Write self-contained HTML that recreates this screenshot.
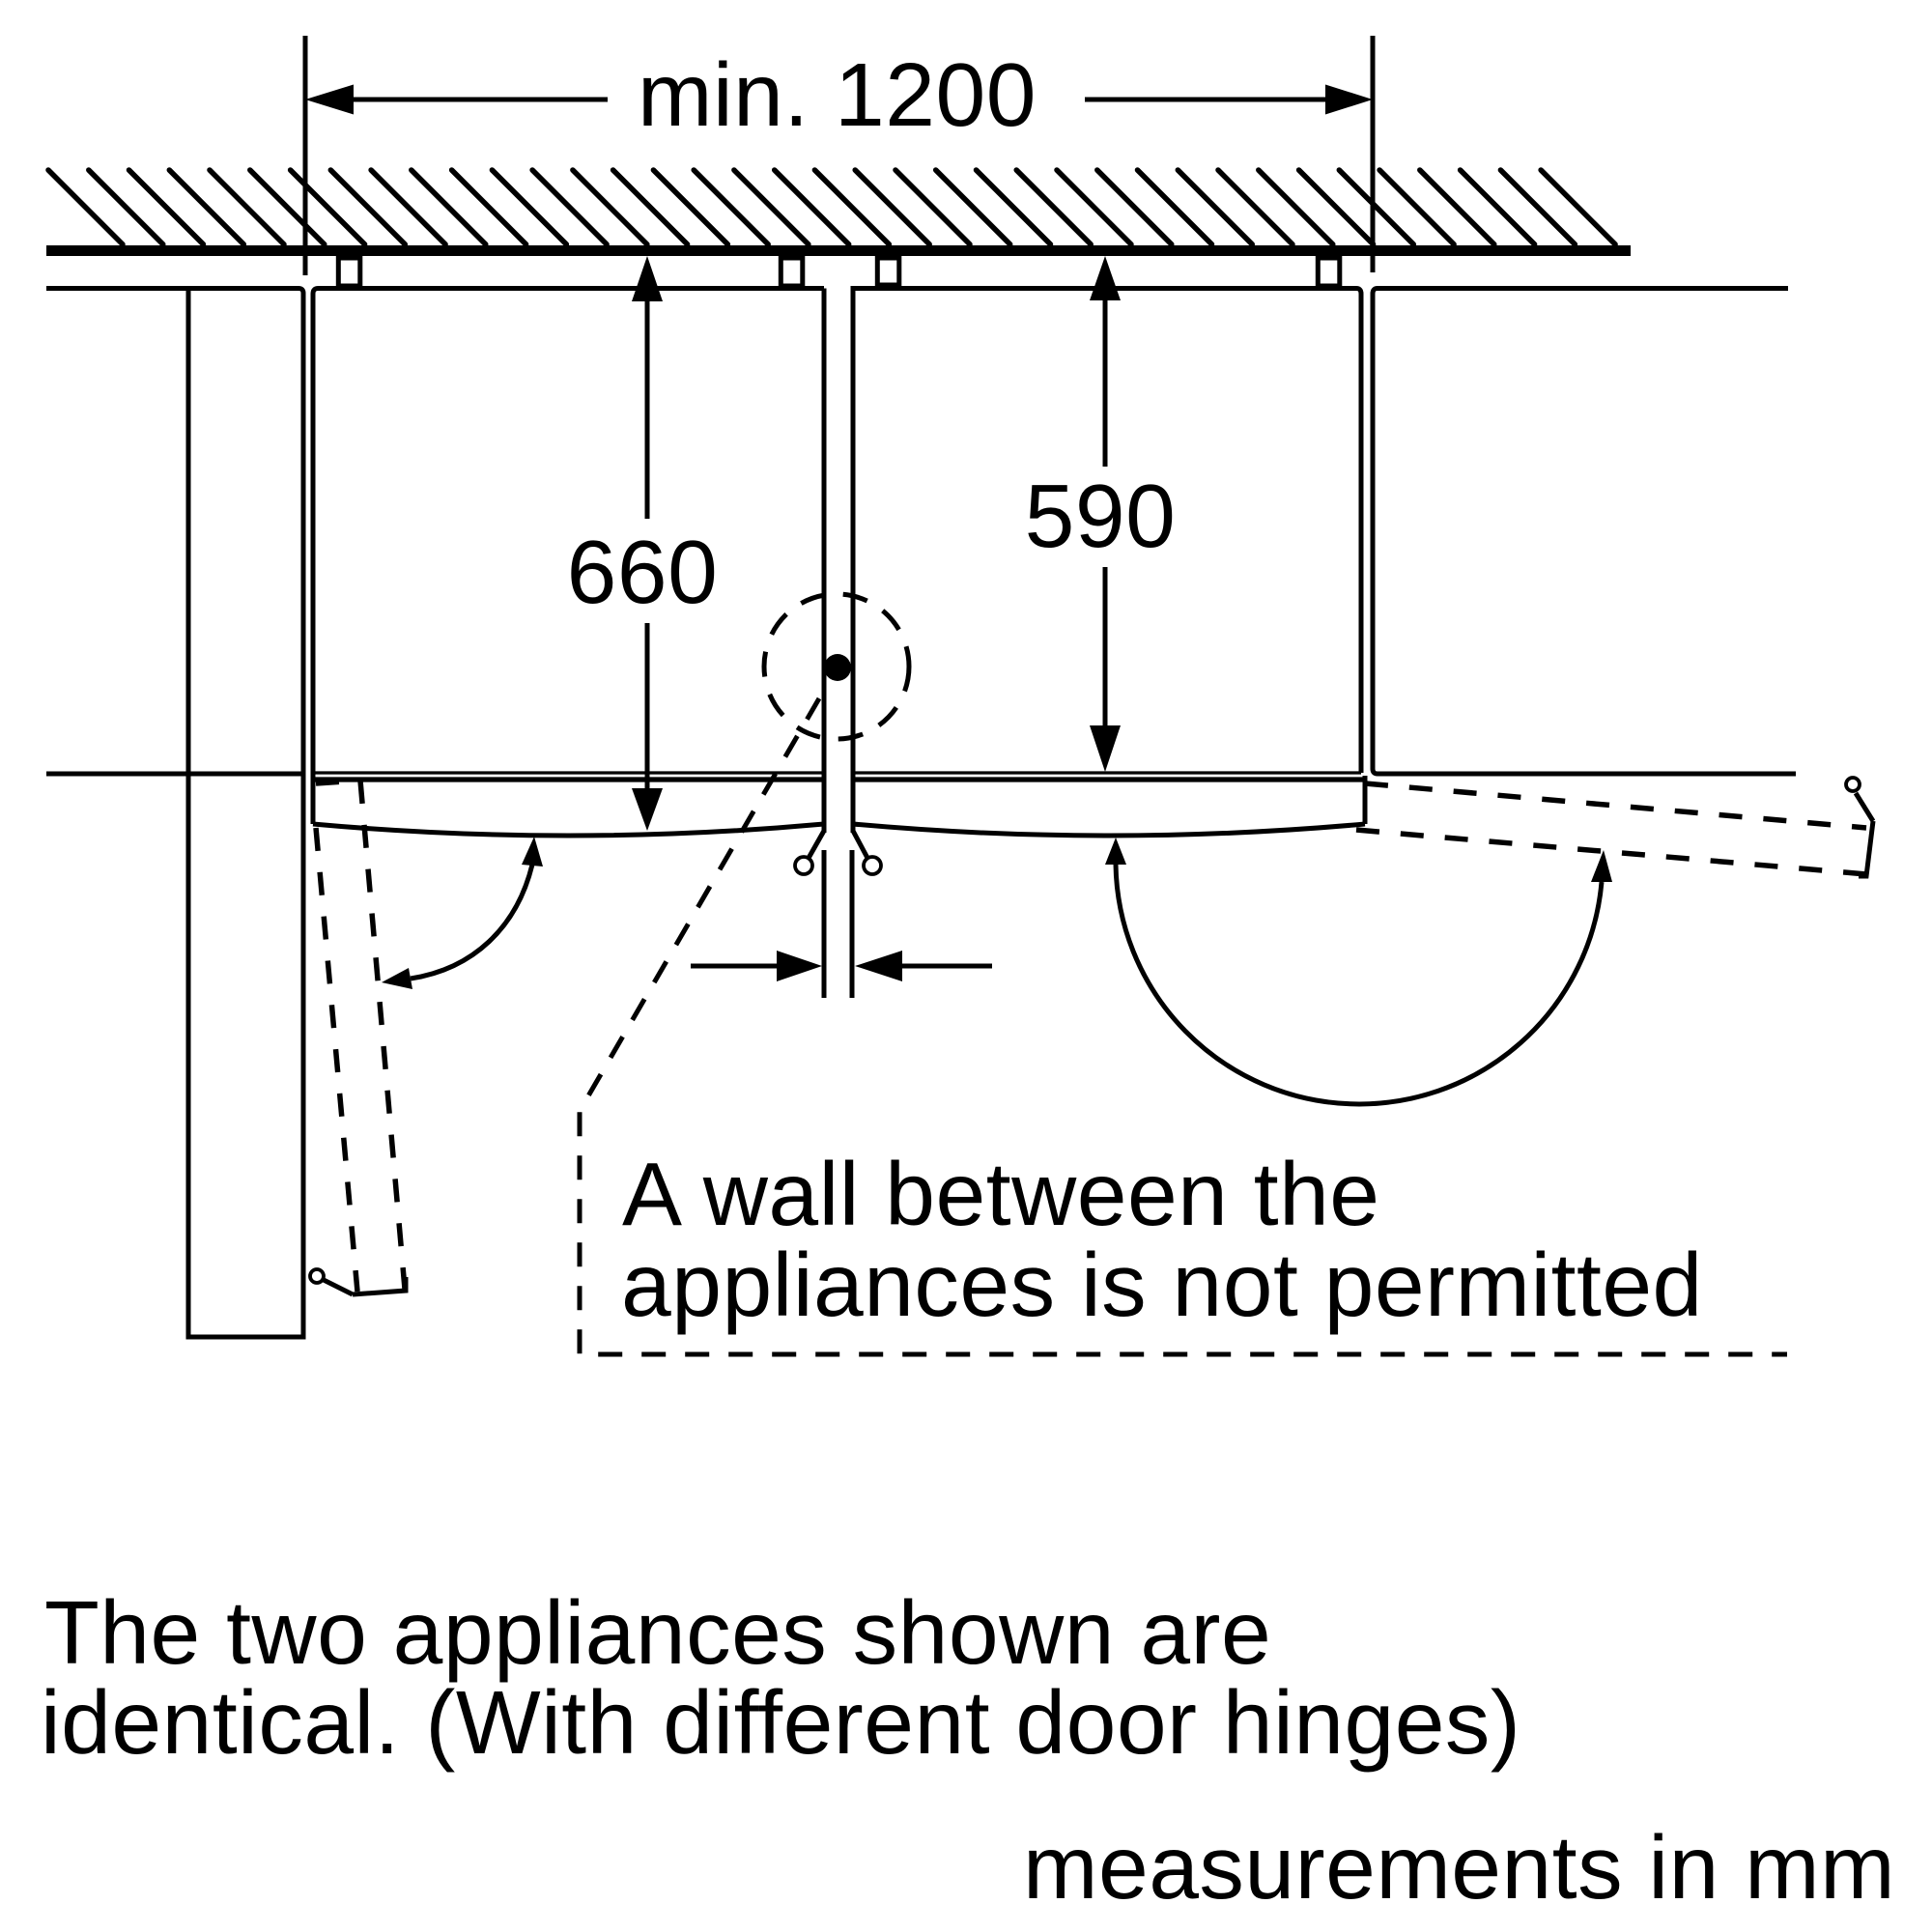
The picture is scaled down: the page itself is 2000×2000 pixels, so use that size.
<!DOCTYPE html>
<html>
<head>
<meta charset="utf-8">
<style>
  html, body { margin: 0; padding: 0; background: #fff; }
  svg { display: block; }
  text { font-family: "Liberation Sans", Arial, sans-serif; font-size: 93px; fill: #000; letter-spacing: 0.5px; }
</style>
</head>
<body>
<svg width="2000" height="2000" viewBox="0 0 2000 2000" xmlns="http://www.w3.org/2000/svg">
  <rect width="2000" height="2000" fill="#fff"/>

  <!-- hatch -->
  <path stroke="#000" stroke-width="5.5" stroke-linecap="round" fill="none"
    d="M50,176 l77,77 M91.8,176 l77,77 M133.5,176 l77,77 M175.3,176 l77,77 M217,176 l77,77 M258.8,176 l77,77 M300.6,176 l77,77 M342.3,176 l77,77 M384.1,176 l77,77 M425.8,176 l77,77 M467.6,176 l77,77 M509.4,176 l77,77 M551.1,176 l77,77 M592.9,176 l77,77 M634.6,176 l77,77 M676.4,176 l77,77 M718.2,176 l77,77 M759.9,176 l77,77 M801.7,176 l77,77 M843.4,176 l77,77 M885.2,176 l77,77 M927,176 l77,77 M968.7,176 l77,77 M1010.5,176 l77,77 M1052.2,176 l77,77 M1094,176 l77,77 M1135.8,176 l77,77 M1177.5,176 l77,77 M1219.3,176 l77,77 M1261,176 l77,77 M1302.8,176 l77,77 M1344.6,176 l77,77 M1386.3,176 l77,77 M1428.1,176 l77,77 M1469.8,176 l77,77 M1511.6,176 l77,77 M1553.4,176 l77,77 M1595.1,176 l77,77"/>

  <!-- wall line -->
  <path d="M48,259.5 H1688" stroke="#000" stroke-width="11" fill="none"/>

  <g stroke="#000" stroke-width="5" fill="none">
    <!-- extension lines -->
    <path d="M316,37 V285 M1421,37 V282"/>
    <!-- top dimension shafts -->
    <path d="M366,103 H629 M1123,103 H1372"/>

    <!-- small squares -->
    <rect x="350.3" y="267" width="22.5" height="29"/>
    <rect x="808.3" y="267" width="22.5" height="29"/>
    <rect x="908.3" y="267" width="22.5" height="28"/>
    <rect x="1364.3" y="267" width="22.5" height="29"/>

    <!-- left cabinet + left wall lines -->
    <path d="M48,298.5 H309 Q314,298.5 314,303.5 V1384 H195 V298.5"/>
    <path d="M48,801 H314"/>

    <!-- left appliance body -->
    <path d="M324,853 V304 Q324,298.5 329.5,298.5 H853"/>
    <path d="M853,298.5 V862"/>
    <!-- right appliance body -->
    <path d="M883,862 V298.5 H1404 Q1409,298.5 1409,304 V800"/>

    <!-- right cabinet -->
    <path d="M1851,298.5 H1426 Q1421,298.5 1421,304 V796 Q1421,801 1426,801 H1859"/>

    <!-- door sides and bottoms -->
    <path d="M1413,803 V853"/>
    <path d="M324,853 Q588,877 853,853"/>
    <path d="M883,853 Q1147,877 1413,853"/>

    <!-- hinges center -->
    <path d="M853,860 L836,890 M883,860 L899,890"/>

    <!-- 660 dimension -->
    <path d="M670,312 V537 M670,645 V816"/>
    <!-- 590 dimension -->
    <path d="M1144,311 V483 M1144,587 V751"/>

    <!-- gap dimension -->
    <path d="M853,880 V1033 M882,880 V1033"/>
    <path d="M715,1000 H804 M934,1000 H1027"/>

    <!-- left swing arc -->
    <path d="M551,895 C535,960 490,1003 425,1013"/>
    <!-- right swing arc -->
    <path d="M1155,895 A252,252 0 0 0 1658,913"/>

    <!-- solid bits of dashed doors -->
    <path d="M365,1340 L420,1336 V1322"/>
    <path d="M335,1325 L365,1340"/>
    <path d="M1939,850 L1932,907 H1924"/>
    <path d="M1921,821 L1939,850"/>
  </g>

  <!-- appliance bottom lines (thin) and door top lines (thicker) -->
  <path d="M324,800 H853 M883,800 H1409" stroke="#000" stroke-width="3.2" fill="none"/>
  <path d="M324,807 H853 M883,807 H1413" stroke="#000" stroke-width="5.2" fill="none"/>

  <!-- hinge circles -->
  <g stroke="#000" stroke-width="3.8" fill="#fff">
    <circle cx="832" cy="896" r="9"/>
    <circle cx="903" cy="896" r="9"/>
    <circle cx="328" cy="1321" r="7"/>
    <circle cx="1918" cy="812" r="7"/>
  </g>

  <!-- arrowheads -->
  <g fill="#000" stroke="none">
    <polygon points="316,103 366,87.5 366,118.5"/>
    <polygon points="1421,103 1372,87.5 1372,118.5"/>
    <polygon points="670,265 654,312 686,312"/>
    <polygon points="670,860 654,816 686,816"/>
    <polygon points="1144,265 1128,311 1160,311"/>
    <polygon points="1144,799 1128,751 1160,751"/>
    <polygon points="851,1000 804,984 804,1016"/>
    <polygon points="885,1000 934,984 934,1016"/>
    <polygon points="553,866 540,895 562,897"/>
    <polygon points="395,1017 423,1002 427,1024"/>
    <polygon points="1155,867 1144,895 1166,895"/>
    <polygon points="1660,880 1647,913 1669,913"/>
  </g>

  <!-- dashed elements -->
  <g stroke="#000" stroke-width="5" fill="none">
    <circle cx="866" cy="690" r="75" stroke-dasharray="26 19"/>
    <path d="M848,723 L600,1150 V1402 H1850" stroke-dasharray="25 20"/>
  </g>
  <g stroke="#000" stroke-width="5.5" fill="none" stroke-dasharray="24 22">
    <path d="M327,857 L370,1337"/>
    <path d="M373,808 L419,1334"/>
    <path d="M327,811 L373,808"/>
    <path d="M1413,811 L1932,857"/>
    <path d="M1404,859 L1932,905"/>
  </g>

  <!-- dot -->
  <circle cx="867" cy="691" r="14" fill="#000"/>

  <!-- texts -->
  <text x="660" y="130">min. 1200</text>
  <text x="665" y="624" text-anchor="middle">660</text>
  <text x="1139" y="566" text-anchor="middle">590</text>
  <text x="644" y="1268">A wall between the</text>
  <text x="643" y="1362">appliances is not permitted</text>
  <text x="46" y="1722">The two appliances shown are</text>
  <text x="42" y="1815">identical. (With different door hinges)</text>
  <text x="1059" y="1965">measurements in mm</text>
</svg>
</body>
</html>
